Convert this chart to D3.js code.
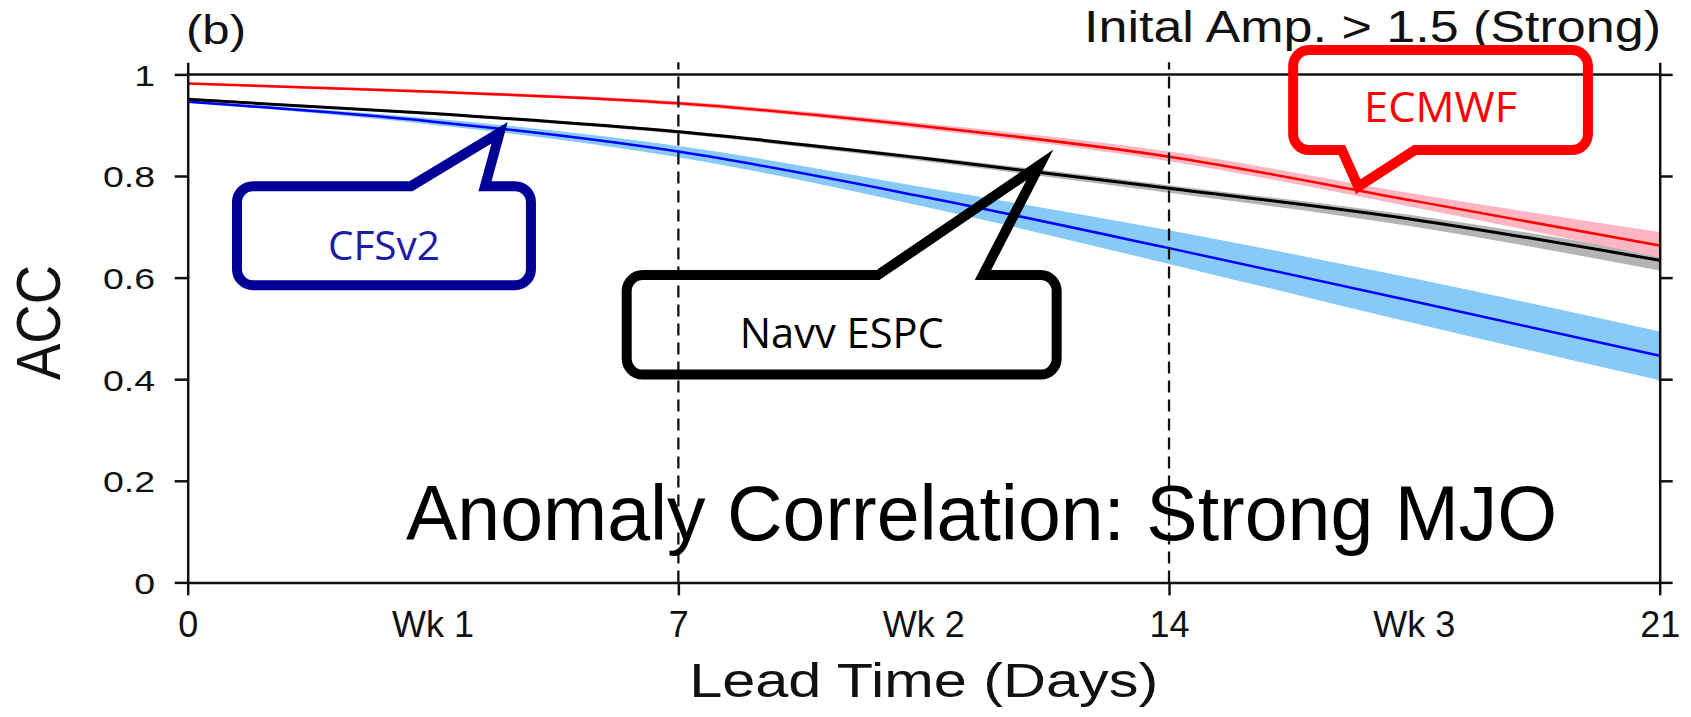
<!DOCTYPE html>
<html>
<head>
<meta charset="utf-8">
<script src="https://cdn.jsdelivr.net/npm/d3@7"></script>
<style>
  html, body { margin: 0; padding: 0; background: #fff; }
  svg { display: block; }
  text { fill: #111; }
</style>
</head>
<body>
<svg id="chart" width="1691" height="717"></svg>
<script>
// ---------------- data ----------------
const days = [0, 3.5, 7, 10.5, 14, 17.5, 21];

const ecmwf      = [0.982, 0.966, 0.943, 0.898, 0.838, 0.751, 0.663];
const ecmwfUpper = [0.984, 0.969, 0.947, 0.904, 0.848, 0.765, 0.690];
const ecmwfLower = [0.980, 0.963, 0.939, 0.892, 0.829, 0.738, 0.640];

const navy       = [0.951, 0.923, 0.887, 0.835, 0.776, 0.714, 0.634];
const navyUpper  = [0.953, 0.925, 0.890, 0.839, 0.782, 0.722, 0.646];
const navyLower  = [0.949, 0.920, 0.883, 0.829, 0.767, 0.700, 0.614];

const cfs        = [0.946, 0.907, 0.848, 0.759, 0.658, 0.553, 0.446];
const cfsUpper   = [0.948, 0.913, 0.859, 0.778, 0.693, 0.598, 0.494];
const cfsLower   = [0.944, 0.901, 0.837, 0.740, 0.627, 0.510, 0.398];

const yTicks = [0, 0.2, 0.4, 0.6, 0.8, 1];
const dayTicks = [0, 7, 14, 21];
const weekPos = [3.5, 10.5, 17.5];
const weekLabels = ["Wk 1", "Wk 2", "Wk 3"];
const weekLines = [7, 14];

// callouts, in data units (days, ACC)
const callouts = [
  { name: "CFSv2", color: "#000096", textColor: "#1c1ca6",
    x0: 0.703, x1: 4.897, y0: 0.780, y1: 0.585,
    side: "top", b0: 3.187, b1: 4.241, tipX: 4.45, tipY: 0.885,
    textY: 0.635, size: 40, len: 112 },
  { name: "Navv ESPC", color: "#000000", textColor: "#000000",
    x0: 6.263, x1: 12.397, y0: 0.605, y1: 0.409,
    side: "top", b0: 9.847, b1: 11.345, tipX: 12.158, tipY: 0.822,
    textY: 0.461, size: 42, len: 204 },
  { name: "ECMWF", color: "#ff0000", textColor: "#ff0000",
    x0: 15.771, x1: 19.976, y0: 1.048, y1: 0.851,
    side: "bottom", b0: 16.466, b1: 17.508, tipX: 16.699, tipY: 0.779,
    textY: 0.907, size: 42, len: 153 }
];

const SANS = '"Liberation Sans", Arial, Helvetica, sans-serif';
const CALLOUT_FONT = '"Open Sans", "Noto Sans", sans-serif';

// ---------------- scales ----------------
const svg = d3.select("#chart");
const x = d3.scaleLinear().domain([0, 21]).range([187.7, 1659.7]);
const y = d3.scaleLinear().domain([0, 1.024]).range([582.4, 62.2]);

const series = [
  { mid: cfs,   lo: cfsLower,   hi: cfsUpper,   line: "#0000ff", band: "#87c9f7", w: 2.5 },
  { mid: navy,  lo: navyLower,  hi: navyUpper,  line: "#000000", band: "#b4b4b4", w: 3 },
  { mid: ecmwf, lo: ecmwfLower, hi: ecmwfUpper, line: "#ff0000", band: "#ffb6c3", w: 2.5 }
];

const area = (lo, hi) => d3.area()
  .x((d, i) => x(days[i]))
  .y0((d, i) => y(lo[i]))
  .y1((d, i) => y(hi[i]))
  .curve(d3.curveMonotoneX)(days);

const line = (vals) => d3.line()
  .x((d, i) => x(days[i]))
  .y((d, i) => y(vals[i]))
  .curve(d3.curveMonotoneX)(days);

series.forEach(s => {
  svg.append("path").attr("d", area(s.lo, s.hi)).attr("fill", s.band).attr("stroke", "none");
});
series.forEach(s => {
  svg.append("path").attr("d", line(s.mid)).attr("fill", "none")
    .attr("stroke", s.line).attr("stroke-width", s.w);
});

// reference line at ACC = 1
svg.append("line")
  .attr("x1", x(0)).attr("x2", x(21)).attr("y1", y(1)).attr("y2", y(1))
  .attr("stroke", "#111").attr("stroke-width", 2.5);

// dashed week separators
svg.selectAll(".wk").data(weekLines).enter().append("line")
  .attr("x1", d => x(d)).attr("x2", d => x(d))
  .attr("y1", y(0)).attr("y2", y(1.024))
  .attr("stroke", "#111").attr("stroke-width", 2.3).attr("stroke-dasharray", "12,7");

// ---------------- axes ----------------
const axisStyle = g => {
  g.selectAll(".domain").attr("stroke", "#111").attr("stroke-width", 2.5);
  g.selectAll(".tick line").attr("stroke", "#111").attr("stroke-width", 2.5);
};

const yLeft = svg.append("g").attr("transform", `translate(${x(0)},0)`)
  .call(d3.axisLeft(y).tickValues(yTicks).tickSize(13).tickSizeOuter(0).tickFormat(d3.format("~g")))
  .call(axisStyle);
yLeft.selectAll("text")
  .style("font-family", SANS).style("font-size", "30px").style("fill", "#111")
  .attr("x", -32.7 / 1.25).attr("dy", "0.36em")
  .attr("transform", "scale(1.25,1)");

svg.append("g").attr("transform", `translate(${x(21)},0)`)
  .call(d3.axisRight(y).tickValues(yTicks).tickSize(13).tickSizeOuter(0).tickFormat(""))
  .call(axisStyle);

const xAxis = svg.append("g").attr("transform", `translate(0,${y(0)})`)
  .call(d3.axisBottom(x).tickValues(dayTicks).tickSize(13).tickSizeOuter(0).tickFormat(d3.format("d")))
  .call(axisStyle);
xAxis.selectAll("text")
  .style("font-family", SANS).style("font-size", "36px").style("fill", "#111")
  .attr("y", 54.3).attr("dy", 0);

svg.selectAll(".wklab").data(weekPos).enter().append("text")
  .attr("x", d => x(d)).attr("y", y(0) + 54.3)
  .attr("text-anchor", "middle")
  .style("font-family", SANS).style("font-size", "36px")
  .text((d, i) => weekLabels[i]);

// ---------------- titles ----------------
svg.append("text").attr("x", 186).attr("y", 44)
  .style("font-family", SANS).style("font-size", "40px")
  .attr("textLength", 60).attr("lengthAdjust", "spacingAndGlyphs")
  .text("(b)");

svg.append("text").attr("x", 1661).attr("y", 42).attr("text-anchor", "end")
  .style("font-family", SANS).style("font-size", "44px")
  .attr("textLength", 577).attr("lengthAdjust", "spacingAndGlyphs")
  .text("Inital Amp. > 1.5 (Strong)");

svg.append("text").attr("x", (x(0) + x(21)) / 2).attr("y", 697).attr("text-anchor", "middle")
  .style("font-family", SANS).style("font-size", "48px")
  .attr("textLength", 469).attr("lengthAdjust", "spacingAndGlyphs")
  .text("Lead Time (Days)");

svg.append("text")
  .attr("transform", "translate(37.5,322.5) scale(1.16,1) rotate(-90)")
  .attr("text-anchor", "middle").attr("dy", "0.358em")
  .style("font-family", SANS).style("font-size", "54px")
  .attr("textLength", 115).attr("lengthAdjust", "spacingAndGlyphs")
  .text("ACC");

svg.append("text").attr("x", 406).attr("y", 540)
  .style("font-family", SANS).style("font-size", "77px").style("fill", "#000")
  .text("Anomaly Correlation: Strong MJO");

// ---------------- callouts ----------------
function calloutPath(c) {
  const L = x(c.x0), R = x(c.x1), T = y(c.y0), B = y(c.y1), r = 16;
  const bx0 = x(c.b0), bx1 = x(c.b1), tx = x(c.tipX), ty = y(c.tipY);
  const p = d3.path();
  p.moveTo(L + r, T);
  if (c.side === "top") { p.lineTo(bx0, T); p.lineTo(tx, ty); p.lineTo(bx1, T); }
  p.lineTo(R - r, T);
  p.arcTo(R, T, R, T + r, r);
  p.lineTo(R, B - r);
  p.arcTo(R, B, R - r, B, r);
  if (c.side === "bottom") { p.lineTo(bx1, B); p.lineTo(tx, ty); p.lineTo(bx0, B); }
  p.lineTo(L + r, B);
  p.arcTo(L, B, L, B - r, r);
  p.lineTo(L, T + r);
  p.arcTo(L, T, L + r, T, r);
  p.closePath();
  return p.toString();
}

callouts.forEach(c => {
  svg.append("path").attr("d", calloutPath(c))
    .attr("fill", "none").attr("stroke", c.color).attr("stroke-width", 10)
    .attr("stroke-linejoin", "miter").attr("stroke-miterlimit", 10);
  svg.append("text")
    .attr("x", (x(c.x0) + x(c.x1)) / 2).attr("y", y(c.textY))
    .attr("text-anchor", "middle")
    .style("font-family", CALLOUT_FONT)
    .style("font-size", c.size + "px").style("fill", c.textColor)
    .attr("textLength", c.len).attr("lengthAdjust", "spacingAndGlyphs")
    .text(c.name);
});
</script>
</body>
</html>
